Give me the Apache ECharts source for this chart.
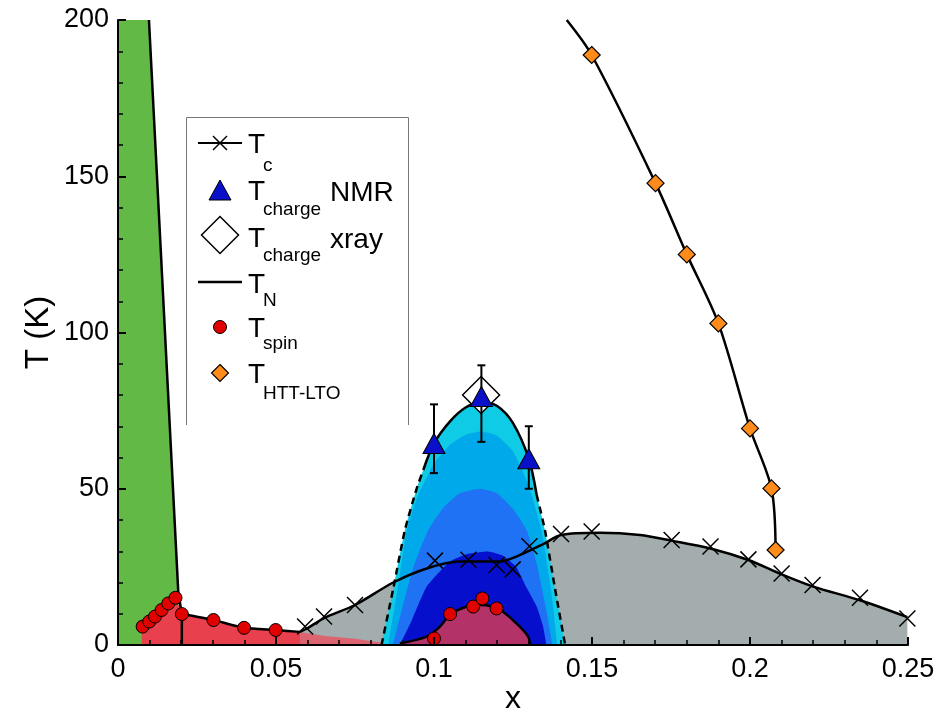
<!DOCTYPE html>
<html><head><meta charset="utf-8">
<script src="https://cdn.jsdelivr.net/npm/echarts@6.0.0/dist/echarts.min.js"></script>
<style>html,body{margin:0;padding:0;background:#fff}#c{width:942px;height:709px}</style>
</head><body><div id="c"></div>
<script>
// ---- axes ----
const xTickValues = [0, 0.05, 0.1, 0.15, 0.2, 0.25];
const yTickValues = [0, 50, 100, 150, 200];

// ---- T_c (crosses) and its curve ----
const tcPoints = [[0.0592,5.9],[0.0652,9.1],[0.075,12.8],[0.1003,27],[0.1109,27.3],[0.1198,25.6],[0.1249,24.2],[0.1302,31.6],[0.1402,35.5],[0.1499,36.3],[0.1752,33.6],[0.1875,31.5],[0.1995,27.4],[0.21,22.9],[0.2198,19.2],[0.2348,15.1],[0.2498,8.5]];
const tcCurve = [[0.0576,4.2],[0.0597,5.2],[0.0652,8.6],[0.075,12.8],[0.0871,20],[0.0977,24.5],[0.1082,26.7],[0.1209,26.7],[0.1261,28.3],[0.1346,32.3],[0.1402,35.2],[0.1525,35.9],[0.1652,35.2],[0.1752,33.4],[0.1875,30.9],[0.1995,27.2],[0.21,22.6],[0.22,18.7],[0.2348,14.3],[0.2498,8.9]];

// ---- T_N boundary (green region) ----
const tnLine = [[0.0098,200],[0.0191,16.5],[0.0202,10],[0.0202,0]];
const greenTop = [[0,200],[0.0098,200],[0.0191,16.5],[0.0202,10],[0.0202,0]];
const spinLowLine = [[0.0202,10],[0.0302,8],[0.0399,5.5],[0.0499,4.8],[0.0576,4.2]];

// ---- red region (spin order, low x) ----
const redTop = [[0.0075,0],[0.0075,5],[0.0078,5.9],[0.0099,7.5],[0.0117,9.1],[0.0138,11.2],[0.0159,13.3],[0.0182,15.1],[0.0202,10],[0.0302,8],[0.0399,5.5],[0.0499,4.8],[0.0576,4.2],[0.0576,0]];
const redTailTop = [[0.0576,4.2],[0.065,3],[0.075,2],[0.083,0.8],[0.0855,0]];

// ---- T_spin points ----
const spinPoints = [[0.0078,5.9],[0.0099,7.5],[0.0117,9.1],[0.0138,11.2],[0.0159,13.3],[0.0182,15.1],[0.0202,9.9],[0.0302,8],[0.0399,5.5],[0.0499,4.8],[0.1,2.1],[0.1051,9.9],[0.1124,12.3],[0.1153,14.9],[0.1198,11.7]];

// ---- charge-order dome ----
const domeLeftDashed = [[0.0834,0],[0.0871,18],[0.0908,36.8],[0.0945,50],[0.0966,56]];
const domeTop = [[0.0966,56],[0.1,64.5],[0.105,71.5],[0.11,76],[0.115,77.8],[0.12,76.5],[0.125,71],[0.13,59.6],[0.1325,48]];
const domeRightDashed = [[0.1325,48],[0.1351,36.8],[0.1383,18],[0.1415,0]];
const band2 = [[0.0855,0],[0.0885,18],[0.0914,36.8],[0.095,48],[0.1,58],[0.105,64],[0.11,67.3],[0.115,68.3],[0.12,67],[0.125,62],[0.13,51],[0.134,36.8],[0.137,18],[0.139,0]];
const band3 = [[0.087,0],[0.09,12],[0.0935,25],[0.0982,36.8],[0.103,44],[0.108,48.5],[0.1146,50],[0.12,48.5],[0.125,43.5],[0.1293,36.8],[0.1325,26],[0.135,14],[0.1375,0]];
const band4 = [[0.0892,0],[0.093,8],[0.0977,18.7],[0.105,26.7],[0.11,29],[0.117,29.9],[0.122,28.5],[0.126,25],[0.1295,18],[0.1325,12.3],[0.1345,6],[0.1356,0]];
const spinDome = [[0.0892,0.5],[0.0977,2.7],[0.1019,5.9],[0.105,9.6],[0.1104,12.3],[0.1151,12.8],[0.1209,11.2],[0.1261,6.9],[0.1298,2.7],[0.1304,0]];

// ---- T_charge NMR (triangles, with error bars) and xray ----
const nmrX = [0.1, 0.115, 0.13];
const nmrT = [64.5, 79.5, 59.6];
const nmrLow = [55, 65, 50];
const nmrHigh = [77, 89.5, 70];
const xrayPoints = [[0.1149, 80]];

// ---- HTT-LTO ----
const ltoPoints = [[0.1499,188.8],[0.1701,147.8],[0.18,125],[0.19,102.9],[0.2,69.3],[0.2068,50.1],[0.2081,30.4]];
const ltoLine = [[0.142,200],[0.1499,188.8],[0.1701,147.8],[0.18,125],[0.19,102.9],[0.2,69.3],[0.2068,50.1],[0.2081,30.4]];

const FONT = 'Liberation Sans, Arial, sans-serif';
const chart = echarts.init(document.getElementById('c'), null, {renderer:'canvas'});

function area(name, data, color, smooth){
  return {type:'line', name, data, z:1, smooth: smooth||0, showSymbol:false, symbol:'none', silent:true,
    lineStyle:{width:0}, areaStyle:{color, opacity:1}, itemStyle:{color}};
}
function curve(name, data, opts){
  opts = opts||{};
  return {type:'line', name, data, z:3, smooth: opts.smooth||0, showSymbol:false, symbol:'none', silent:true,
    lineStyle:{color:'#000', width: opts.width||2.5, type: opts.type||'solid'}};
}

const errData = nmrX.map((x,i)=>[x, nmrLow[i], nmrHigh[i]]);
const nmrData = nmrX.map((x,i)=>[x, nmrT[i]]);

const textX = 248;
function T(y){ return {type:'text', x:textX, y, style:{text:'T', font:'28px '+FONT, fill:'#000', verticalAlign:'middle'}}; }
function S(y, s){ return {type:'text', x:263, y, style:{text:s, font:'19px '+FONT, fill:'#000', verticalAlign:'middle'}}; }
function W(y, s){ return {type:'text', x:330, y, style:{text:s, font:'28px '+FONT, fill:'#000', verticalAlign:'middle'}}; }

const graphics = [
  {type:'polyline', shape:{points:[[186.5,425],[186.5,117.5],[408.5,117.5],[408.5,425]]}, style:{stroke:'#777', lineWidth:1, fill:null}},
  {type:'line', shape:{x1:198,y1:143,x2:242,y2:143}, style:{stroke:'#000', lineWidth:2}},
  {type:'line', shape:{x1:213,y1:136,x2:227,y2:150}, style:{stroke:'#000', lineWidth:1.5}},
  {type:'line', shape:{x1:227,y1:136,x2:213,y2:150}, style:{stroke:'#000', lineWidth:1.5}},
  T(145), S(165.5,'c'),
  {type:'polygon', shape:{points:[[220,180],[231,200],[209,200]]}, style:{fill:'#0a10c8', stroke:'#000', lineWidth:1}},
  T(192), S(209.5,'charge'), W(193.3,'NMR'),
  {type:'polygon', shape:{points:[[220,216.5],[238.5,235],[220,253.5],[201.5,235]]}, style:{fill:'#fff', stroke:'#000', lineWidth:1.5}},
  T(239), S(255.5,'charge'), W(240.3,'xray'),
  {type:'line', shape:{x1:198,y1:282,x2:242,y2:282}, style:{stroke:'#000', lineWidth:2.5}},
  T(285), S(300.5,'N'),
  {type:'circle', shape:{cx:220, cy:327, r:6.5}, style:{fill:'#e00000', stroke:'#000', lineWidth:1}},
  T(329), S(343.5,'spin'),
  {type:'polygon', shape:{points:[[220,364.5],[228.5,373],[220,381.5],[211.5,373]]}, style:{fill:'#ff8c1a', stroke:'#000', lineWidth:1.2}},
  T(375), S(393.5,'HTT-LTO')
];

const option = {
  animation:false,
  backgroundColor:'#fff',
  grid:{left:118, right:34, top:20, bottom:64, containLabel:false, outerBoundsMode:'none'},
  xAxis:{type:'value', min:xTickValues[0], max:xTickValues[xTickValues.length-1], interval:xTickValues[1]-xTickValues[0],
    name:'x', nameLocation:'middle', nameGap:38, nameMoveOverlap:false, nameTextStyle:{fontSize:32, fontFamily:FONT, color:'#000'},
    axisLine:{show:true, onZero:false, lineStyle:{color:'#000', width:2}},
    axisTick:{show:true, inside:true, length:8, lineStyle:{color:'#000', width:2}},
    minorTick:{show:true, splitNumber:5, length:5, lineStyle:{color:'#000', width:1.5}},
    splitLine:{show:false}, minorSplitLine:{show:false}, z:10,
    axisLabel:{fontSize:27, fontFamily:FONT, color:'#000', margin:11}},
  yAxis:{type:'value', min:yTickValues[0], max:yTickValues[yTickValues.length-1], interval:yTickValues[1]-yTickValues[0],
    name:'T (K)', nameLocation:'middle', nameGap:63, nameMoveOverlap:false, nameTextStyle:{fontSize:33, fontFamily:FONT, color:'#000'},
    axisLine:{show:true, onZero:false, lineStyle:{color:'#000', width:2}},
    axisTick:{show:true, inside:true, length:8, lineStyle:{color:'#000', width:2}},
    minorTick:{show:true, splitNumber:5, length:5, lineStyle:{color:'#000', width:1.5}},
    splitLine:{show:false}, minorSplitLine:{show:false}, z:10,
    axisLabel:{fontSize:27, fontFamily:FONT, color:'#000', margin:9}},
  graphic:{elements:graphics},
  series:[
    area('Tc region', tcCurve, '#a3adad', 0.3),
    area('AF region', greenTop, '#62b946'),
    area('spin region', redTop, '#e8404c'),
    area('spin region tail', redTailTop, '#dc6470'),
    area('charge dome', domeLeftDashed.concat(domeTop.slice(1), domeRightDashed.slice(1)), '#10cbe6', 0.2),
    area('band2', band2, '#00aaea', 0.15),
    area('band3', band3, '#2072f5', 0.15),
    area('band4', band4, '#0610cc', 0.15),
    area('spin dome', spinDome, '#b33268', 0.3),
    curve('spin dome line', spinDome, {smooth:0.3}),
    curve('dome left', domeLeftDashed, {type:[7,5], smooth:0.2}),
    curve('dome top', domeTop, {smooth:0.3}),
    curve('dome right', domeRightDashed, {type:[7,5], smooth:0.2}),
    curve('T_N', tnLine),
    curve('T_N low', spinLowLine, {smooth:0.2}),
    curve('Tc curve', tcCurve, {smooth:0.3}),
    curve('LTO line', ltoLine, {smooth:0.3}),
    {type:'scatter', name:'T_c', data:tcPoints, z:5, symbol:'path://M0,0L10,10M10,0L0,10', symbolSize:16,
      itemStyle:{color:'rgba(0,0,0,0)', borderColor:'#000', borderWidth:1.5, opacity:1}, silent:true},
    {type:'scatter', name:'T_spin', data:spinPoints, z:5, symbol:'circle', symbolSize:13,
      itemStyle:{color:'#e00000', borderColor:'#000', borderWidth:1, opacity:1}, silent:true},
    {type:'scatter', name:'T_HTT-LTO', data:ltoPoints, z:5, symbol:'diamond', symbolSize:17,
      itemStyle:{color:'#ff8c1a', borderColor:'#000', borderWidth:1.2, opacity:1}, silent:true},
    {type:'scatter', name:'T_charge xray', data:xrayPoints, z:5, symbol:'diamond', symbolSize:37,
      itemStyle:{color:'#fff', borderColor:'#000', borderWidth:1.5, opacity:1}, silent:true},
    {type:'custom', name:'err', data:errData, z:6, silent:true, encode:{x:0, y:[1,2]},
      renderItem:function(params, api){
        const x = api.value(0), lo = api.value(1), hi = api.value(2);
        const a = api.coord([x, hi]), b = api.coord([x, lo]);
        const w = 4;
        const st = {stroke:'#000', lineWidth:2};
        return {type:'group', children:[
          {type:'line', shape:{x1:a[0],y1:a[1],x2:b[0],y2:b[1]}, style:st},
          {type:'line', shape:{x1:a[0]-w,y1:a[1],x2:a[0]+w,y2:a[1]}, style:st},
          {type:'line', shape:{x1:b[0]-w,y1:b[1],x2:b[0]+w,y2:b[1]}, style:st}
        ]};
      }},
    {type:'scatter', name:'T_charge NMR', data:nmrData, z:7, symbol:'triangle', symbolSize:[22,20],
      itemStyle:{color:'#0a10c8', borderColor:'#000', borderWidth:1, opacity:1}, silent:true}
  ]
};
chart.setOption(option);
</script>
</body></html>
